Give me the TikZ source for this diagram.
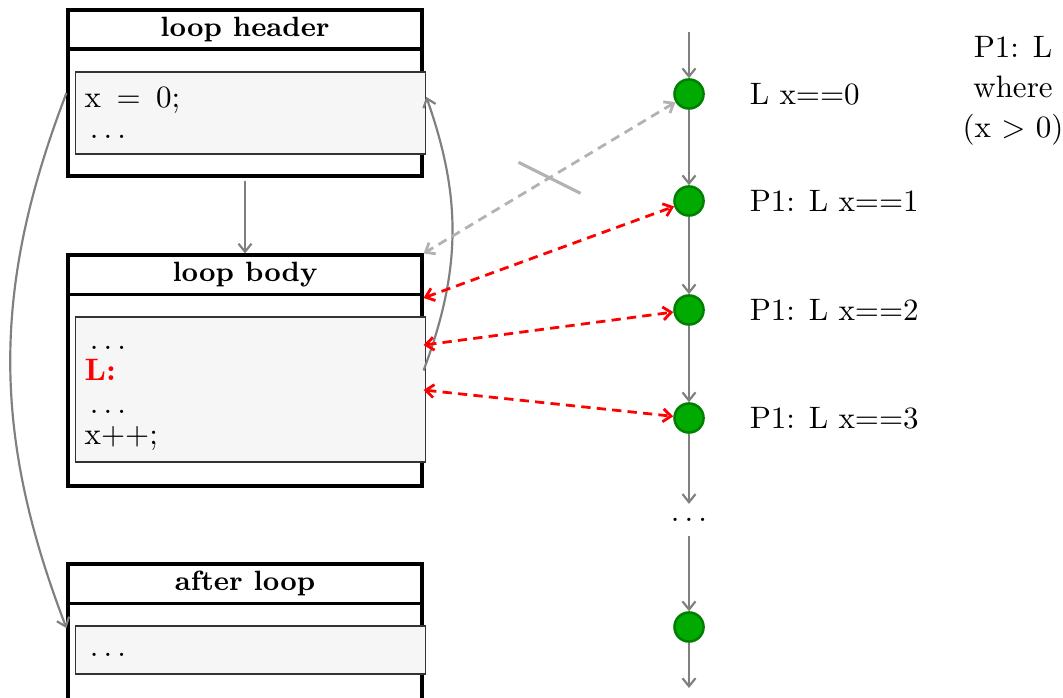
\documentclass[tikz,border=0pt]{standalone}
\usetikzlibrary{positioning,arrows.meta}
\definecolor{stategreen}{RGB}{0,170,0}
\definecolor{stateline}{RGB}{0,128,0}
\definecolor{flowgray}{RGB}{128,128,128}
\definecolor{ghostgray}{RGB}{178,178,178}
\definecolor{codefill}{RGB}{246,246,246}

\begin{document}
\begin{tikzpicture}[x=0.3226pt, y=-0.3226pt, >={Straight Barb[length=2.6pt, width=4.2pt]},
        blockbox/.style={draw, line width=1pt, minimum width=114.2pt, inner sep=0pt},
        block title/.style={draw, line width=1pt, minimum width=114.2pt, minimum height=12.6pt,
        inner sep=0pt, anchor=north, font=\small\bfseries},
        codebox/.style={draw=black!80, fill=codefill, line width=0.4pt, text width=107pt,
        inner sep=3pt, align=left, font=\fontsize{10}{10}\selectfont},
        statenode/.style={circle, draw=stateline, fill=stategreen, line width=0.8pt,
        inner sep=0pt, minimum size=9.4pt},
        flowarrow/.style={->, flowgray, line width=0.7pt},
        linkarrow/.style={<->, red, line width=0.9pt, dash pattern=on 3pt off 2pt},
        ghostlink/.style={<->, ghostgray, line width=0.9pt, dash pattern=on 3pt off 2pt}
        ]
        \useasboundingbox (0,0) rectangle (1063,698);

        % program blocks
        \node [blockbox, minimum height=53.55pt] (hdr) at (245,93) {};
        \node [block title] (hdrtitle) at (hdr.north) {loop header};
        \node [codebox, minimum height=26.45pt] (hdrcode) at (250.5,113) {x\enspace=\enspace 0;\\ $\,\ldots$};

        \node [blockbox, minimum height=74.5pt] (body) at (245,370.5) {};
        \node [block title] (bodytitle) at (body.north) {loop body};
        \node [codebox, minimum height=46.8pt] (bodycode) at (250.5,389.5)
        {\vphantom{L}$\,\ldots$\\ \textcolor{red}{\textbf{L:}}\\[0.6pt] $\,\ldots$\\ x++;};

        \node [blockbox, minimum height=53.55pt] (aft) at (245,647) {};
        \node [block title] (afttitle) at (aft.north) {after loop};
        \node [codebox, minimum height=15.5pt] (aftcode) at (250.5,650) {\vphantom{x}$\,\ldots$};

        % states of the run
        \node [statenode] (s0) at (689,94) {};
        \node [statenode] (s1) at (689,201) {};
        \node [statenode] (s2) at (689,310) {};
        \node [statenode] (s3) at (689,418) {};
        \node [minimum height=10pt] (sdots) at (689,520) {$\ldots$};
        \node [statenode] (s4) at (689,627) {};
        \coordinate (entry) at (689,32);
        \coordinate (exit) at (689,688);

        \node [right=11pt of s0] (l0) {L x==0};
        \node [right=11pt of s1] (l1) {P1: L x==1};
        \node [right=11pt of s2] (l2) {P1: L x==2};
        \node [right=11pt of s3] (l3) {P1: L x==3};
        \node [align=center, font=\fontsize{10}{13}\selectfont] (note) at (1013,91)
        {P1: L\\ where\\ (x $>$ 0)};

        \coordinate (hdrin) at ([yshift=5.2pt]hdrcode.east);
        \coordinate (aftin) at ([yshift=6.1pt]aft.west);
        \coordinate (b1) at ([yshift=23.4pt]body.east);
        \coordinate (b2) at ([yshift=8.2pt]body.east);
        \coordinate (b3) at ([yshift=-6.3pt]body.east);

        \path [flowarrow]
        (entry) edge (s0)
        (s0) edge (s1)
        (s1) edge (s2)
        (s2) edge (s3)
        (s3) edge (sdots)
        (sdots) edge (s4)
        (s4) edge (exit)
        (hdr) edge [shorten <=1pt] (body)
        (hdr.west) edge [bend right=21] (aftin)
        (body.east) edge [bend right=20] (hdrin)
        ;

        \draw [ghostlink] (s0) -- coordinate [pos=0.5] (cut) (body.north east);
        \draw [ghostgray, line width=1pt] ([shift={(-31,-15.5)}]cut) -- ([shift={(31,15.5)}]cut);

        \path [linkarrow]
        (b1) edge (s1)
        (b2) edge (s2)
        (b3) edge (s3)
        ;
\end{tikzpicture}
\end{document}
